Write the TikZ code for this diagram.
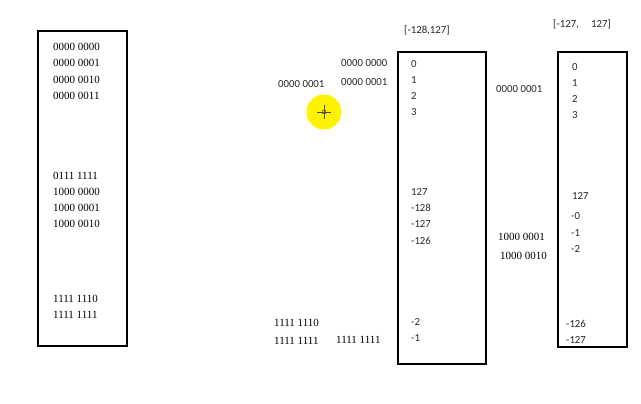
\documentclass[tikz,border=0pt]{standalone}
\usepackage{fontspec}
\setmainfont{Liberation Serif}
\newfontfamily\carl{Carlito}
\begin{document}
\begin{tikzpicture}[x=1pt,y=-1pt,
  box/.style={draw=black,line width=1.6pt},
  serl/.style={anchor=west,inner sep=0pt,font=\fontsize{11}{12}\selectfont},
  sanl/.style={anchor=west,inner sep=0pt,font=\carl\fontsize{10.8}{12}\selectfont,text=black!85},
]
\useasboundingbox (0,0) rectangle (641,404);
% boxes
\draw[box] (38,31) rectangle (127,346);
\draw[box] (398,52) rectangle (486,364);
\draw[box] (558,52) rectangle (627,347);
% box 1 labels
\node[serl] (a0) at (53,47) {0000 0000};
\node[serl] (a1) at (53,63) {0000 0001};
\node[serl] (a2) at (53,80) {0000 0010};
\node[serl] (a3) at (53,96) {0000 0011};
\node[serl] (a4) at (53,176) {0111 1111};
\node[serl] (a5) at (53,192) {1000 0000};
\node[serl] (a6) at (53,208) {1000 0001};
\node[serl] (a7) at (53,224) {1000 0010};
\node[serl] (a8) at (53,299) {1111 1110};
\node[serl] (a9) at (53,315) {1111 1111};
% middle labels
\node[sanl] (m1) at (278,84) {0000 0001};
\node[sanl] (m2) at (341,63) {0000 0000};
\node[sanl] (m3) at (341,82) {0000 0001};
\node[serl] (m4) at (274,323) {1111 1110};
\node[serl] (m5) at (274,341) {1111 1111};
\node[serl] (m6) at (336,340) {1111 1111};
\node[sanl] (r2) at (404,30) {[-128,127]};
% box 2 contents
\node[sanl] (b0) at (411,64) {0};
\node[sanl] (b1) at (411,80) {1};
\node[sanl] (b2) at (411,96) {2};
\node[sanl] (b3) at (411,112) {3};
\node[sanl] (b4) at (411,192) {127};
\node[sanl] (b5) at (411,208) {-128};
\node[sanl] (b6) at (411,224) {-127};
\node[sanl] (b7) at (411,241) {-126};
\node[sanl] (b8) at (411,322) {-2};
\node[sanl] (b9) at (411,338) {-1};
% right labels
\node[sanl] (n1) at (496,89) {0000 0001};
\node[serl] (n2) at (498,237) {1000 0001};
\node[serl] (n3) at (500,256) {1000 0010};
\node[sanl] (r3a) at (553,24) {[-127,};
\node[sanl] (r3b) at (591,24) {127]};
% box 3 contents
\node[sanl] (c0) at (572,67) {0};
\node[sanl] (c1) at (572,83) {1};
\node[sanl] (c2) at (572,99) {2};
\node[sanl] (c3) at (572,115) {3};
\node[sanl] (c4) at (572,196) {127};
\node[sanl] (c5) at (571,216) {-0};
\node[sanl] (c6) at (571,233) {-1};
\node[sanl] (c7) at (571,249) {-2};
\node[sanl] (c8) at (566,324) {-126};
\node[sanl] (c9) at (566,340) {-127};
% cursor highlight
\fill[yellow] (324,112) circle (17.5);
\draw[black!70,line width=0.6pt] (317,112) -- (331,112) (324,105) -- (324,119);
\draw[black!70,line width=0.5pt] (324,112) circle (2);
\end{tikzpicture}
\end{document}
